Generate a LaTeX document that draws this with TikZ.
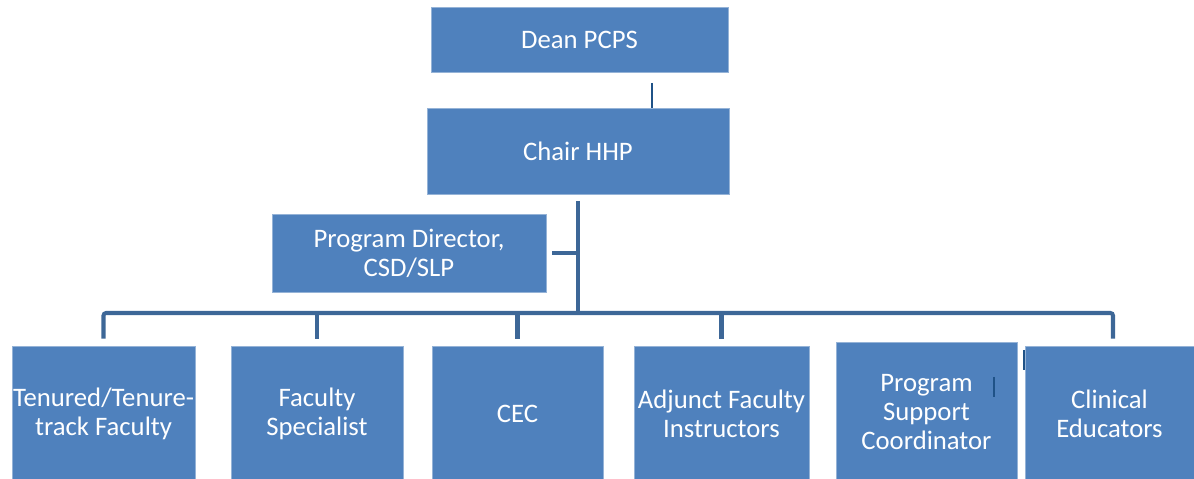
\documentclass[tikz,border=0pt]{standalone}
\usepackage{fontspec}
\setmainfont{Carlito}
\usetikzlibrary{positioning}
\definecolor{boxblue}{HTML}{4F81BD}
\definecolor{busblue}{HTML}{3D6797}
\definecolor{tickblue}{HTML}{1F5287}
\tikzset{
  box/.style={fill=boxblue,draw=boxblue!60!white,line width=0.4pt,text=white,align=center,
    font=\fontsize{15.2}{16.4}\selectfont,inner sep=0pt},
  bus/.style={draw=busblue,line width=2.3pt,rounded corners=1.5pt},
  tick/.style={draw=tickblue,line width=1.4pt}
}

\begin{document}
\begin{tikzpicture}[x=0.02cm,y=-0.02cm]

\def\u{0.02cm}
\def\busY{313}
\def\trunkX{578}

\useasboundingbox (0,0) rectangle (1194,479);

% top of the chart
\node[box,minimum width=297*\u,minimum height=65*\u] (dean) at (579.5,39.5) {Dean PCPS};
\node[box,minimum width=302*\u,minimum height=86*\u] (chair) at (578,151) {Chair HHP};
\node[box,minimum width=274*\u,minimum height=78*\u] (pd) at (409,253) {Program Director,\\CSD/SLP};

% staff row
\node[box,minimum width=183*\u,minimum height=136*\u] (tenure) at (103.5,414) {Tenured/Tenure-\\track Faculty};
\node[box,minimum width=172*\u,minimum height=136*\u] (facspec) at (317,414) {Faculty\\Specialist};
\node[box,minimum width=171*\u,minimum height=136*\u] (cec) at (517.5,414) {CEC};
\node[box,minimum width=175*\u,minimum height=136*\u] (adjunct) at (721.5,414) {Adjunct Faculty\\Instructors};
\node[box,minimum width=181*\u,minimum height=140*\u] (support) at (926.5,412) {Program\\Support\\Coordinator};
\node[box,minimum width=169*\u,minimum height=136*\u] (clinical) at (1109.5,414) {Clinical\\Educators};

% connectors
\coordinate (deanfoot) at (652,83);
\draw[tick] (deanfoot) -- (deanfoot |- chair.north);
\coordinate (trunktop) at (\trunkX,201);
\coordinate (bus) at (\trunkX,\busY);
\draw[bus] (trunktop) -- (bus);
\draw[bus] ([xshift=6*\u]pd.east) -- (pd.east -| bus);
\draw[bus] ([yshift=7*\u]tenure.north) |- (bus) -| ([xshift=3.5*\u,yshift=7*\u]clinical.north);
\foreach \n in {facspec,cec,adjunct}
  \draw[bus] ([yshift=7*\u]\n.north) -- (\n.north |- bus);

% stray marks
\coordinate (markA) at (994,377);
\coordinate (markB) at (1024,350);
\draw[tick] (markA) -- ++(0,20);
\draw[tick] (markB) -- ++(0,20);

\end{tikzpicture}
\end{document}
